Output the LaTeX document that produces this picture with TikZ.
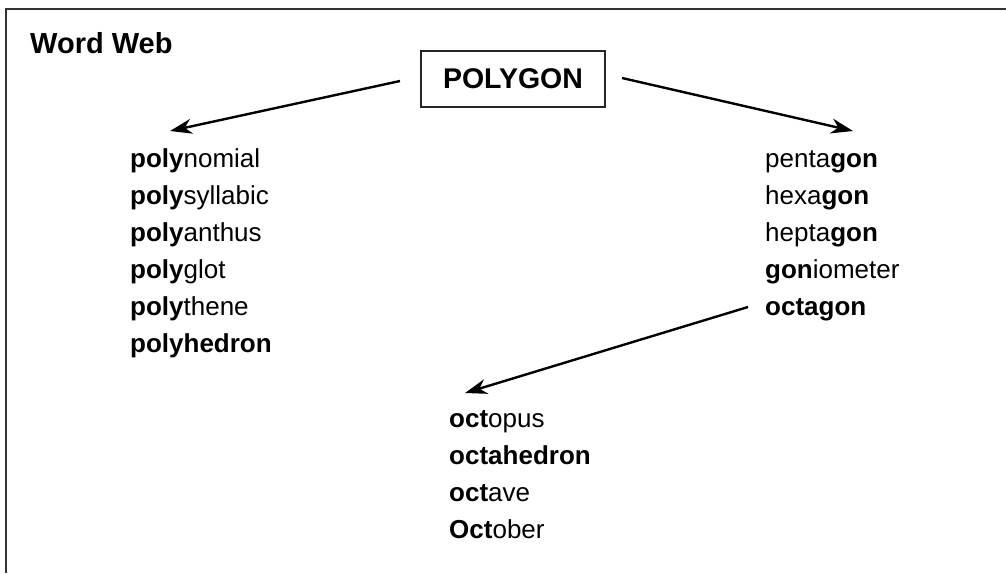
\documentclass[tikz,border=0pt]{standalone}
\usepackage{fontspec}
\setmainfont{Liberation Sans}
\usetikzlibrary{arrows.meta}
\begin{document}
\begin{tikzpicture}[x=1pt,y=-1pt,
  word/.style={anchor=base west,inner sep=0pt,font=\fontsize{26}{30}\selectfont},
  arr/.style={line width=2.4pt,-{Stealth[length=22pt,width=15pt,inset=7pt]}},
  frame/.style={line width=1.6pt,draw=black!80}]
\useasboundingbox (0,0) rectangle (1006,573);
\draw[frame] (6,573) -- (6,9) -- (1006,9);
\node[anchor=base west,inner sep=0pt,font=\fontsize{29}{32}\selectfont\bfseries] (title) at (30,53) {Word Web};
\node[draw=black!85,line width=1.6pt,minimum width=184pt,minimum height=56pt,inner sep=0pt,font=\fontsize{28.5}{32}\selectfont\bfseries] (poly) at (513,79) {POLYGON};
% left column
\node[word] (l1) at (130,167) {\textbf{poly}nomial};
\node[word] (l2) at (130,204) {\textbf{poly}syllabic};
\node[word] (l3) at (130,241) {\textbf{poly}anthus};
\node[word] (l4) at (130,278) {\textbf{poly}glot};
\node[word] (l5) at (130,315) {\textbf{poly}thene};
\node[word] (l6) at (130,352) {\textbf{polyhedron}};
% right column
\node[word] (r1) at (765,167) {penta\textbf{gon}};
\node[word] (r2) at (765,204) {hexa\textbf{gon}};
\node[word] (r3) at (765,241) {hepta\textbf{gon}};
\node[word] (r4) at (765,278) {\textbf{gon}iometer};
\node[word] (r5) at (765,315) {\textbf{octagon}};
% bottom column
\node[word] (b1) at (449,427) {\textbf{oct}opus};
\node[word] (b2) at (449,464) {\textbf{octahedron}};
\node[word] (b3) at (449,501) {\textbf{oct}ave};
\node[word] (b4) at (449,538) {\textbf{Oct}ober};
% arrow ends
\coordinate (tl) at (170,131);
\coordinate (tr) at (853,131);
\coordinate (tb) at (465,393);
\coordinate (sl) at (400,81);
\coordinate (sr) at (622,78);
\coordinate (sb) at (748,307);
\draw[arr] (sl) -- (tl);
\draw[arr] (sr) -- (tr);
\draw[arr] (sb) -- (tb);
\end{tikzpicture}
\end{document}
